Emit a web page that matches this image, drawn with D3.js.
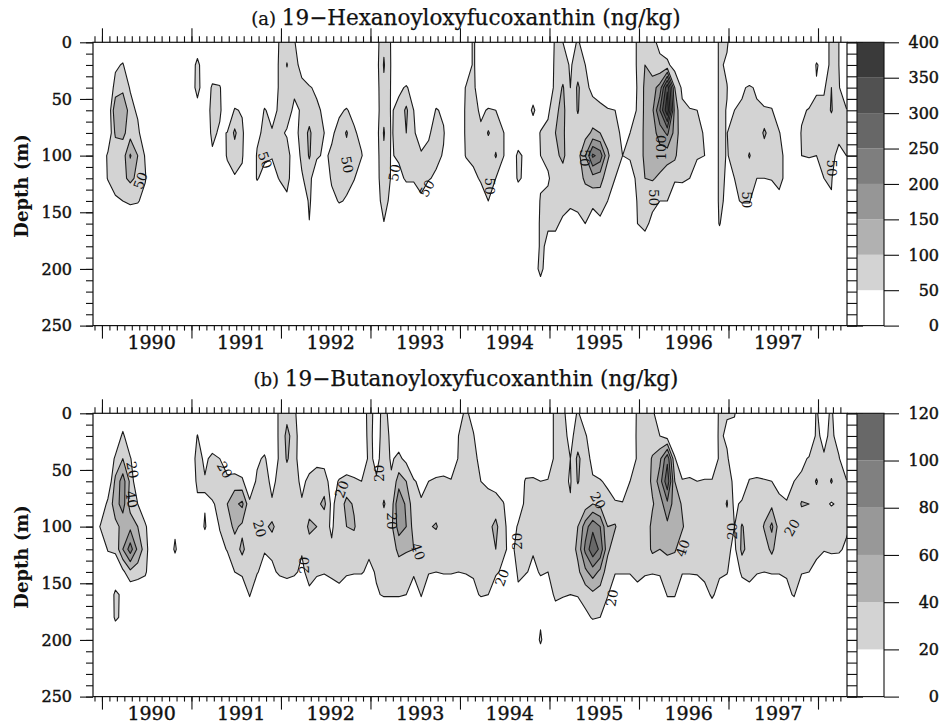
<!DOCTYPE html>
<head>
    <meta charset="utf-8">
    <script src="https://d3js.org/d3.v7.min.js"></script>
    <style>
      body { margin: 0; background: #fff; }
      text { font-family: "DejaVu Serif", serif; fill: #111; }
      .title { font-size: 21.5px; stroke: #111; stroke-width: 0.25px; }
      .ylabel { font-size: 18px; font-weight: bold; }
      .tick-lab { font-size: 16px; stroke: #111; stroke-width: 0.45px; }
      .year-lab { font-size: 19px; stroke: #111; stroke-width: 0.4px; }
      .clab { font-size: 13.5px; }
    </style>
</head>
<body>
    <script>
        // depth of every row of a profile (m)
        var depths = [0, 20, 40, 60, 80, 100, 120, 140, 160, 180, 200, 220]
        // monthly profiles, first one at this decimal year
        var firstCruise = 1989.9

        // 19-Hexanoyloxyfucoxanthin (ng/kg), one profile per month
        var hexProfiles = [
          [0,0,0,0,0,0,0,0,0,0,0,0],
          [0,0,0,0,0,0,0,0,0,0,0,0],
          [0,0,0,0,0,60,55,0,0,0,0,0],
          [0,40,70,140,110,60,65,45,0,0,0,0],
          [0,55,85,150,110,75,90,50,0,0,0,0],
          [0,0,45,70,80,155,110,60,0,0,0,0],
          [0,0,0,40,65,100,90,55,0,0,0,0],
          [0,0,0,0,0,45,55,30,0,0,0,0],
          [0,0,0,0,0,0,0,0,0,0,0,0],
          [0,0,0,0,0,0,0,0,0,0,0,0],
          [0,0,0,0,0,0,0,0,0,0,0,0],
          [0,0,0,0,0,0,0,0,0,0,0,0],
          [0,0,0,0,0,0,0,0,0,0,0,0],
          [0,0,0,0,0,0,0,0,0,0,0,0],
          [0,70,75,20,0,0,0,0,0,0,0,0],
          [0,0,0,0,0,0,0,0,0,0,0,0],
          [0,0,60,75,65,40,0,0,0,0,0,0],
          [0,0,55,60,40,15,0,0,0,0,0,0],
          [0,0,0,0,52,55,30,0,0,0,0,0],
          [0,0,0,55,110,75,45,0,0,0,0,0],
          [0,0,0,45,60,55,40,0,0,0,0,0],
          [0,0,0,0,0,0,0,0,0,0,0,0],
          [0,0,0,0,40,55,55,0,0,0,0,0],
          [0,0,0,55,60,60,30,0,0,0,0,0],
          [0,0,0,30,55,55,20,0,0,0,0,0],
          [55,60,60,60,60,60,55,0,0,0,0,0],
          [80,102,80,70,45,70,65,40,0,0,0,0],
          [55,70,60,40,30,20,20,0,0,0,0,0],
          [0,30,65,55,70,60,45,0,0,0,0,0],
          [0,0,55,75,110,105,70,60,48,0,0,0],
          [0,0,40,60,65,60,0,0,0,0,0,0],
          [0,0,0,40,50,40,0,0,0,0,0,0],
          [0,0,0,0,40,60,60,30,0,0,0,0],
          [0,0,0,40,70,75,70,55,0,0,0,0],
          [0,0,0,55,105,80,65,45,0,0,0,0],
          [0,0,0,30,60,75,55,0,0,0,0,0],
          [0,0,0,0,30,55,0,0,0,0,0,0],
          [0,0,0,0,0,0,0,0,0,0,0,0],
          [30,30,30,30,30,30,30,28,0,0,0,0],
          [90,105,90,85,105,90,85,70,48,0,0,0],
          [45,45,45,45,45,45,45,35,0,0,0,0],
          [0,0,40,65,70,60,30,0,0,0,0,0],
          [0,0,55,110,100,75,60,0,0,0,0,0],
          [0,0,30,50,55,65,60,0,0,0,0,0],
          [0,0,0,0,30,55,60,45,0,0,0,0],
          [0,0,0,0,45,60,55,0,0,0,0,0],
          [0,0,0,55,65,65,40,0,0,0,0,0],
          [0,0,0,40,55,45,0,0,0,0,0,0],
          [0,0,0,0,0,0,0,0,0,0,0,0],
          [0,0,0,0,0,0,0,0,0,0,0,0],
          [0,0,55,60,60,55,0,0,0,0,0,0],
          [60,60,65,70,70,60,40,0,0,0,0,0],
          [0,0,0,40,60,60,55,30,0,0,0,0],
          [0,0,0,55,105,60,60,50,0,0,0,0],
          [0,0,0,50,70,105,50,0,0,0,0,0],
          [0,0,0,0,55,55,0,0,0,0,0,0],
          [0,0,0,0,0,0,0,0,0,0,0,0],
          [0,0,0,0,0,65,60,0,0,0,0,0],
          [0,0,0,0,0,35,35,0,0,0,0,0],
          [0,0,0,65,0,0,0,0,0,0,0,0],
          [0,0,0,0,55,50,40,55,60,60,75,0],
          [0,0,0,40,65,60,45,60,55,40,0,0],
          [60,65,70,90,100,90,70,65,55,40,0,0],
          [50,70,105,115,110,110,80,60,45,0,0,0],
          [30,45,50,55,60,70,65,55,40,0,0,0],
          [55,70,110,105,70,80,75,60,40,0,0,0],
          [30,50,60,55,80,150,110,70,50,0,0,0],
          [0,0,40,65,110,260,130,60,30,0,0,0],
          [0,0,30,60,100,230,120,70,40,0,0,0],
          [0,0,0,55,75,110,70,50,0,0,0,0],
          [0,0,0,50,65,60,50,0,0,0,0,0],
          [0,0,0,0,40,50,0,0,0,0,0,0],
          [0,0,0,0,50,55,30,0,0,0,0,0],
          [60,60,55,60,70,70,60,55,50,0,0,0],
          [70,100,110,110,110,110,100,80,60,30,0,0],
          [60,70,130,140,130,120,105,60,40,0,0,0],
          [40,60,170,250,170,130,90,50,0,0,0,0],
          [20,60,340,390,210,120,70,50,0,0,0,0],
          [0,30,100,130,130,110,60,0,0,0,0,0],
          [0,0,40,60,65,60,55,30,0,0,0,0],
          [0,0,0,55,70,60,50,0,0,0,0,0],
          [0,0,0,50,65,60,0,0,0,0,0,0],
          [0,0,0,0,45,50,0,0,0,0,0,0],
          [0,0,0,0,0,0,0,0,0,0,0,0],
          [60,60,60,60,60,60,60,60,55,0,0,0],
          [58,40,52,48,48,48,45,40,0,0,0,0],
          [0,0,0,50,100,60,50,40,0,0,0,0],
          [0,0,45,55,60,60,60,55,0,0,0,0],
          [0,0,55,60,65,105,60,55,0,0,0,0],
          [0,0,45,55,60,60,50,0,0,0,0,0],
          [0,0,0,60,110,70,50,0,0,0,0,0],
          [0,0,0,55,70,60,55,0,0,0,0,0],
          [0,0,0,0,55,60,55,45,0,0,0,0],
          [0,0,0,0,0,40,45,0,0,0,0,0],
          [0,0,0,0,0,0,0,0,0,0,0,0],
          [0,0,0,40,55,50,0,0,0,0,0,0],
          [0,0,0,55,65,55,0,0,0,0,0,0],
          [0,55,45,60,60,50,40,0,0,0,0,0],
          [30,30,40,70,60,55,50,0,0,0,0,0],
          [60,60,100,105,60,55,55,45,0,0,0,0],
          [50,50,55,60,55,45,0,0,0,0,0,0],
          [0,0,0,55,60,50,0,0,0,0,0,0]
        ]

        // 19-Butanoyloxyfucoxanthin (ng/kg), one profile per month
        var butProfiles = [
          [0,0,0,0,0,0,0,0,0,0,0,0],
          [0,0,0,0,0,22,0,0,0,0,0,0],
          [0,0,0,0,26,28,22,0,0,0,0,0],
          [0,0,24,45,50,35,25,0,25,24,0,0],
          [0,25,40,70,70,45,60,15,15,15,0,0],
          [0,0,22,35,30,55,90,35,0,0,0,0],
          [0,0,0,0,20,40,55,30,0,0,0,0],
          [0,0,0,0,0,24,30,24,0,0,0,0],
          [0,0,0,0,0,0,0,0,0,0,0,0],
          [0,0,0,0,0,0,0,0,0,0,0,0],
          [0,0,0,0,0,0,0,0,0,0,0,0],
          [0,0,0,0,0,15,24,0,0,0,0,0],
          [0,0,0,0,0,0,0,0,0,0,0,0],
          [0,0,0,0,0,0,0,0,0,0,0,0],
          [0,21,30,25,15,0,0,0,0,0,0,0],
          [0,0,15,22,18,23,0,0,0,0,0,0],
          [0,0,26,30,18,0,0,0,0,0,0,0],
          [0,0,20,28,25,22,10,0,0,0,0,0],
          [0,0,0,28,40,30,22,0,0,0,0,0],
          [0,0,0,30,55,45,30,20,0,0,0,0],
          [0,0,0,24,65,35,45,25,0,0,0,0],
          [0,0,0,0,25,30,28,26,22,0,0,0],
          [0,0,15,25,26,25,24,22,0,0,0,0],
          [0,0,24,28,24,35,22,10,0,0,0,0],
          [0,0,0,15,22,45,25,15,0,0,0,0],
          [25,25,24,26,28,28,25,24,0,0,0,0],
          [35,45,42,30,30,35,32,28,0,0,0,0],
          [25,32,30,28,26,28,26,24,0,0,0,0],
          [0,0,0,15,22,24,22,15,0,0,0,0],
          [0,0,10,25,30,45,30,28,15,0,0,0],
          [0,0,15,28,35,40,28,25,0,0,0,0],
          [0,0,12,30,45,25,24,22,0,0,0,0],
          [0,0,0,10,15,18,22,24,10,0,0,0],
          [0,0,0,22,30,28,24,25,15,0,0,0],
          [0,0,0,28,45,40,28,24,0,0,0,0],
          [0,0,0,24,38,42,30,22,0,0,0,0],
          [0,0,0,20,24,28,26,22,0,0,0,0],
          [30,28,25,24,22,25,24,15,0,0,0,0],
          [10,10,15,22,24,25,24,22,18,0,0,0],
          [28,30,28,30,42,30,26,25,22,0,0,0],
          [10,15,18,22,28,35,30,26,22,0,0,0],
          [0,10,24,50,80,70,45,30,22,0,0,0],
          [0,0,15,40,55,60,42,28,20,0,0,0],
          [0,0,0,22,28,32,40,25,0,0,0,0],
          [0,0,0,15,22,28,30,24,22,0,0,0],
          [0,0,0,20,25,38,28,22,0,0,0,0],
          [0,0,0,24,30,42,26,20,0,0,0,0],
          [0,0,0,26,28,30,24,22,0,0,0,0],
          [0,0,0,22,26,30,26,22,0,0,0,0],
          [10,20,22,24,28,26,24,20,0,0,0,0],
          [25,26,26,26,28,26,24,22,0,0,0,0],
          [10,22,25,28,26,26,24,22,15,0,0,0],
          [0,0,15,20,24,30,25,24,22,0,0,0],
          [0,0,0,15,30,35,26,30,20,0,0,0],
          [0,0,0,10,30,45,40,24,0,0,0,0],
          [0,0,0,0,22,26,24,15,0,0,0,0],
          [0,0,0,0,0,10,15,0,0,0,0,0],
          [0,0,0,0,10,22,26,24,15,0,0,0],
          [0,0,0,23,24,25,26,22,0,0,0,0],
          [0,0,0,24,26,24,22,15,0,0,0,0],
          [0,0,0,20,24,26,24,22,10,15,24,0],
          [0,0,0,22,24,26,24,20,10,0,0,0],
          [28,28,28,30,30,30,28,26,24,10,0,0],
          [24,26,26,26,26,28,26,24,22,5,0,0],
          [10,15,20,18,22,26,28,24,20,0,0,0],
          [22,28,45,42,24,40,45,35,22,0,0,0],
          [10,22,28,26,30,70,85,55,28,15,0,0],
          [0,10,15,22,40,95,115,70,35,22,0,0],
          [0,0,0,22,35,80,95,55,30,20,0,0],
          [0,0,0,15,30,40,45,28,22,0,0,0],
          [0,0,0,0,24,42,26,22,0,0,0,0],
          [0,0,0,0,22,24,24,22,0,0,0,0],
          [0,0,0,20,24,26,24,22,0,0,0,0],
          [24,25,24,25,26,28,26,24,15,0,0,0],
          [28,30,28,28,30,28,28,24,0,0,0,0],
          [26,28,42,44,38,45,44,22,0,0,0,0],
          [0,20,55,70,50,42,40,24,0,0,0,0],
          [0,10,95,115,75,55,45,26,22,0,0,0],
          [0,0,22,40,50,45,42,28,22,0,0,0],
          [0,0,0,22,38,42,30,22,0,0,0,0],
          [0,0,0,24,28,30,26,22,0,0,0,0],
          [0,0,0,20,26,24,24,23,0,0,0,0],
          [0,0,0,22,25,26,22,24,15,0,0,0],
          [0,0,0,22,24,24,24,22,22,10,0,0],
          [24,25,24,24,24,26,24,22,15,0,0,0],
          [22,15,24,30,42,28,25,22,0,0,0,0],
          [22,10,0,15,15,20,15,0,0,0,0,0],
          [0,0,0,0,24,42,45,26,0,0,0,0],
          [0,0,0,22,26,30,32,24,15,0,0,0],
          [0,0,0,24,26,26,24,22,0,0,0,0],
          [0,0,0,22,30,42,30,20,0,0,0,0],
          [0,0,0,20,35,65,45,22,0,0,0,0],
          [0,0,0,15,24,30,26,22,0,0,0,0],
          [0,0,0,10,22,24,24,22,15,0,0,0],
          [0,0,0,20,24,26,24,24,22,0,0,0],
          [0,0,15,24,42,26,24,22,0,0,0,0],
          [0,0,22,28,40,28,24,20,0,0,0,0],
          [22,24,24,42,28,26,24,15,0,0,0,0],
          [10,15,22,26,26,26,22,0,0,0,0,0],
          [24,25,26,42,18,40,25,0,0,0,0,0],
          [0,10,22,24,24,26,24,0,0,0,0,0],
          [0,0,0,22,24,25,15,0,0,0,0,0]
        ]

        var hexLevels = [0, 50, 100, 150, 200, 250, 300, 350, 400]
        var hexColors = ["#ffffff","#d3d3d3","#b1b1b1","#969696","#7e7e7e","#676767","#515151","#3a3a3a"]
        var butLevels = [0, 20, 40, 60, 80, 100, 120]
        var butColors = ["#ffffff","#d3d3d3","#b1b1b1","#989898","#808080","#686868"]

        var years = [1990, 1991, 1992, 1993, 1994, 1995, 1996, 1997]
        var depthTicks = [0, 50, 100, 150, 200, 250]

        // contour labels: [decimal year, depth, text, angle]
        var hexLabels = [
          [1990.43, 122, "50", -70], [1991.82, 104, "50", 70], [1992.74, 108, "50", 80],
          [1993.27, 115, "50", -80], [1993.63, 129, "50", -60], [1994.33, 127, "50", 90],
          [1995.39, 102, "50", 90], [1996.25, 93, "100", -90], [1996.17, 137, "50", 90],
          [1997.20, 139, "50", 90], [1998.15, 111, "50", 90]
        ]
        var butLabels = [
          [1990.34, 50, "20", 80], [1990.33, 76, "40", 80], [1991.37, 50, "20", 60],
          [1991.76, 102, "20", 75], [1992.26, 134, "20", -90], [1992.68, 67, "20", -70],
          [1993.10, 53, "20", -90], [1993.24, 95, "20", 90], [1993.53, 122, "40", 70],
          [1994.64, 113, "20", -90], [1994.47, 145, "20", -70], [1995.54, 77, "20", 60],
          [1995.70, 163, "20", -80], [1996.49, 119, "40", -70], [1997.04, 104, "20", -90],
          [1997.71, 101, "20", -60]
        ]

        var W = 941, H = 724
        var plotLeft = 93, plotRight = 847, plotH = 283.3
        var svg = d3.select("body").append("svg").attr("width", W).attr("height", H)

        var x = d3.scaleLinear().domain([1989.9, 1998.324]).range([plotLeft, plotRight])
        var monthTicks = d3.range(0, 101).map(function(i){ return 1989 + (11 + i) / 12 })
        var yearTicks = d3.range(1990, 1999)

        function drawPanel(top, titleY, id, title, profiles, levels, colors, labels) {
          var y = d3.scaleLinear().domain([0, 250]).range([top, top + plotH])
          var g = svg.append("g")

          svg.append("clipPath").attr("id", "clip" + id)
            .append("rect").attr("x", plotLeft).attr("y", top)
            .attr("width", plotRight - plotLeft).attr("height", plotH)

          // grid for d3.contours, row-major
          var nx = profiles.length, ny = depths.length
          var grid = new Array(nx * ny)
          for (var j = 0; j < ny; j++)
            for (var i = 0; i < nx; i++) grid[j * nx + i] = profiles[i][j]

          var colTime = d3.scaleLinear().domain([0, 1]).range([firstCruise, firstCruise + 1 / 12])
          var rowDepth = d3.scaleLinear().domain(depths.map(function(d, i){ return i })).range(depths)
          var proj = d3.geoTransform({ point: function(px, py) {
            this.stream.point(x(colTime(px - 0.5)), y(rowDepth(py - 0.5)))
          }})
          var path = d3.geoPath(proj)

          var bands = d3.contours().size([nx, ny])
            .thresholds(levels.slice(1, levels.length - 1))(grid)

          var cg = g.append("g").attr("clip-path", "url(#clip" + id + ")")
          cg.selectAll(".band").data(bands).enter().append("path")
            .attr("d", path)
            .attr("fill", function(d){ return colors[levels.indexOf(d.value)] })
            .attr("stroke", "none")
          cg.selectAll(".line").data(bands).enter().append("path")
            .attr("d", path)
            .attr("fill", "none")
            .attr("stroke", "#1a1a1a")
            .attr("stroke-width", 1.1)
            .attr("stroke-linejoin", "round")

          // contour labels
          g.selectAll(".clab").data(labels).enter().append("text")
            .attr("class", "clab")
            .attr("text-anchor", "middle")
            .attr("dy", "0.35em")
            .attr("transform", function(d){
              return "translate(" + x(d[0]) + "," + y(d[1]) + ") rotate(" + d[3] + ")" })
            .text(function(d){ return d[2] })

          // frame
          g.append("rect").attr("x", plotLeft).attr("y", top)
            .attr("width", plotRight - plotLeft).attr("height", plotH)
            .attr("fill", "none").attr("stroke", "#111").attr("stroke-width", 1.2)

          // time axes, top and bottom
          function ticks(axis, vals, size, ty) {
            var a = g.append("g").attr("transform", "translate(0," + ty + ")")
              .call(axis(x).tickValues(vals).tickSize(size).tickFormat(""))
            a.select(".domain").remove()
            a.selectAll("line").attr("stroke", "#111").attr("stroke-width", 1.1)
          }
          ticks(d3.axisTop, monthTicks, 6, top)
          ticks(d3.axisTop, yearTicks, 14, top)
          ticks(d3.axisBottom, monthTicks, 5, top + plotH)
          ticks(d3.axisBottom, yearTicks, 13, top + plotH)

          g.selectAll(".year-lab").data(years).enter().append("text")
            .attr("class", "year-lab")
            .attr("text-anchor", "middle")
            .attr("x", function(d){ return x(d + 0.555) })
            .attr("y", top + plotH + 23.5)
            .text(function(d){ return d })

          // depth axes
          var minorDepth = d3.range(0, 251, 10)
          function dticks(axis, vals, size, tx) {
            var a = g.append("g").attr("transform", "translate(" + tx + ",0)")
              .call(axis(y).tickValues(vals).tickSize(size).tickFormat(""))
            a.select(".domain").remove()
            a.selectAll("line").attr("stroke", "#111").attr("stroke-width", 1.1)
          }
          dticks(d3.axisLeft, minorDepth, 7, plotLeft)
          dticks(d3.axisLeft, depthTicks, 13, plotLeft)
          dticks(d3.axisRight, minorDepth, 10, plotRight)
          dticks(d3.axisRight, depthTicks, 16, plotRight)

          g.selectAll(".tick-lab").data(depthTicks).enter().append("text")
            .attr("class", "tick-lab")
            .attr("text-anchor", "end")
            .attr("x", 72)
            .attr("y", function(d){ return y(d) })
            .attr("dy", "0.36em")
            .text(function(d){ return d })

          g.append("text").attr("class", "ylabel")
            .attr("text-anchor", "middle")
            .attr("transform", "translate(28," + (top + plotH / 2 + 2) + ") rotate(-90)")
            .text("Depth (m)")

          // title
          var t = g.append("text").attr("class", "title")
            .attr("text-anchor", "middle")
            .attr("x", (plotLeft + plotRight) / 2 - 4)
            .attr("y", titleY)
          t.append("tspan").attr("font-size", "18px").text(title[0] + " ")
          t.append("tspan").text(title[1])

          // colour bar
          var cbLeft = 857, cbRight = 884
          var cb = d3.scaleLinear().domain([levels[0], levels[levels.length - 1]]).range([top + plotH, top])
          g.selectAll(".cb").data(colors).enter().append("rect")
            .attr("x", cbLeft).attr("width", cbRight - cbLeft)
            .attr("y", function(d, i){ return cb(levels[i + 1]) })
            .attr("height", function(d, i){ return cb(levels[i]) - cb(levels[i + 1]) })
            .attr("fill", function(d){ return d })
          g.append("rect").attr("x", cbLeft).attr("y", top)
            .attr("width", cbRight - cbLeft).attr("height", plotH)
            .attr("fill", "none").attr("stroke", "#111").attr("stroke-width", 1.1)
          g.append("line").attr("x1", plotRight).attr("x2", cbLeft)
            .attr("y1", top).attr("y2", top).attr("stroke", "#111").attr("stroke-width", 1.1)
          g.append("line").attr("x1", plotRight).attr("x2", cbLeft)
            .attr("y1", top + plotH).attr("y2", top + plotH).attr("stroke", "#111").attr("stroke-width", 1.1)
          var ca = g.append("g").attr("transform", "translate(" + cbRight + ",0)")
            .call(d3.axisRight(cb).tickValues(levels).tickSize(15).tickFormat(""))
          ca.select(".domain").remove()
          ca.selectAll("line").attr("stroke", "#111").attr("stroke-width", 1.1)
          g.selectAll(".cb-lab").data(levels).enter().append("text")
            .attr("class", "tick-lab")
            .attr("text-anchor", "end")
            .attr("x", 939)
            .attr("y", function(d){ return cb(d) })
            .attr("dy", "0.36em")
            .text(function(d){ return d })
        }

        drawPanel(42.3, 25, "a", ["(a)", "19\u2212Hexanoyloxyfucoxanthin (ng/kg)"], hexProfiles, hexLevels, hexColors, hexLabels)
        drawPanel(413.3, 386, "b", ["(b)", "19\u2212Butanoyloxyfucoxanthin (ng/kg)"], butProfiles, butLevels, butColors, butLabels)
    </script>
</body>
